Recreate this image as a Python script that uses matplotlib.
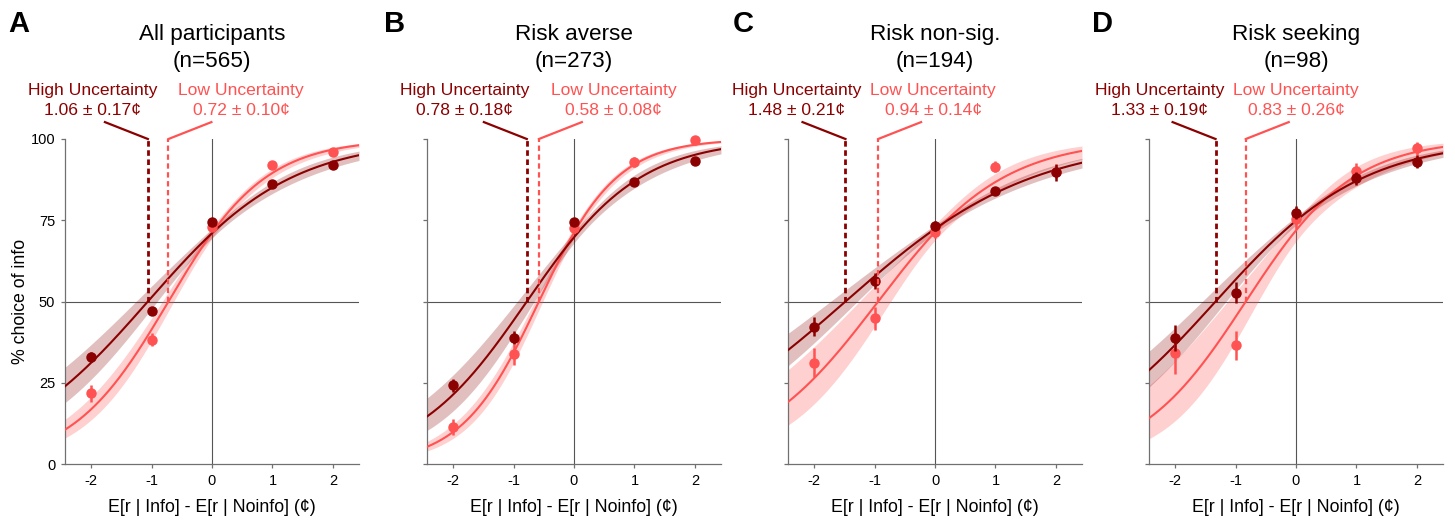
import numpy as np
import matplotlib
matplotlib.use("Agg")
import matplotlib.pyplot as plt

plt.rcParams['font.family'] = ['Liberation Sans', 'DejaVu Sans']
plt.rcParams['axes.unicode_minus'] = False

# x positions of the binned data (cents)
offsets = [-2, -1, 0, 1, 2]

letters = ["A", "B", "C", "D"]
titles = ["All participants", "Risk averse", "Risk non-sig.", "Risk seeking"]
n_subj = [565, 273, 194, 98]

# indifference points +- SE (cents), from the labels
high_ip = [1.06, 0.78, 1.48, 1.33]
high_ip_se = [0.17, 0.18, 0.21, 0.19]
low_ip = [0.72, 0.58, 0.94, 0.83]
low_ip_se = [0.10, 0.08, 0.14, 0.26]

# slope of fitted logistic curves
high_slope = [0.845, 1.07, 0.65, 0.82]
low_slope = [1.25, 1.56, 0.97, 1.13]

# half width of the shaded CI in logit units (part at x=0, part growing with x)
high_ci_b = [0.07, 0.08, 0.06, 0.07]
high_ci_k = [0.12, 0.16, 0.087, 0.107]
low_ci_b = [0.08, 0.08, 0.12, 0.16]
low_ci_k = [0.12, 0.115, 0.22, 0.265]

# % choice of info per offset, and SEM
high_pct = [[33.0, 47.2, 74.6, 86.1, 92.1],
            [24.3, 38.9, 74.4, 86.9, 93.3],
            [42.3, 56.3, 73.2, 84.0, 89.7],
            [38.9, 52.7, 77.3, 87.9, 93.0]]
high_sem = [[1.5, 1.2, 1.0, 1.0, 1.0],
            [2.0, 2.0, 1.2, 1.0, 1.0],
            [3.0, 2.5, 1.5, 1.2, 2.5],
            [4.0, 3.2, 2.0, 2.0, 2.0]]
low_pct = [[21.7, 38.2, 73.0, 92.0, 96.0],
           [11.3, 33.7, 72.5, 93.0, 99.8],
           [31.2, 44.8, 71.5, 91.5, 90.0],
           [34.1, 36.5, 75.3, 90.2, 97.1]]
low_sem = [[2.5, 2.0, 1.0, 1.0, 0.8],
           [2.5, 3.2, 1.5, 1.5, 0.3],
           [4.5, 3.5, 2.0, 1.8, 2.0],
           [6.5, 4.5, 3.0, 2.5, 2.0]]

dark = '#8b0000'
light = '#ff5252'
grey = '#707070'

# layout (pixels / data x for labels)
ax_left_px = [65, 427, 788, 1149]
letter_px = [19, 395, 743, 1103]
high_txt_x = [-1.97, -1.81, -2.29, -2.25]
low_txt_x = [0.48, 0.65, -0.03, 0.0]

W, H = 1455, 523
fig = plt.figure(figsize=(W / 100, H / 100), dpi=100)

xs = np.linspace(-2.43, 2.43, 300)


def sig(z):
    return 100.0 / (1.0 + np.exp(-z))


for i in range(4):
    ax = fig.add_axes([ax_left_px[i] / W, 59 / H, 294 / W, 325 / H])
    ax.set_xlim(-2.43, 2.43)
    ax.set_ylim(0, 100)

    ax.axhline(50, color='#555555', lw=0.8, zorder=1)
    ax.axvline(0, color='#555555', lw=0.8, zorder=1)

    for ip, k, cb, ck, c, a in [(low_ip[i], low_slope[i], low_ci_b[i], low_ci_k[i], light, 0.27),
                                (high_ip[i], high_slope[i], high_ci_b[i], high_ci_k[i], dark, 0.25)]:
        eta = k * (xs + ip)
        half = np.sqrt(cb ** 2 + (ck * xs) ** 2)
        ax.fill_between(xs, sig(eta - half), sig(eta + half), color=c, alpha=a, lw=0, zorder=2)
    ax.plot(xs, sig(low_slope[i] * (xs + low_ip[i])), color=light, lw=1.5, zorder=3)
    ax.plot(xs, sig(high_slope[i] * (xs + high_ip[i])), color=dark, lw=1.5, zorder=4)

    for pct, sem, c, z in [(low_pct[i], low_sem[i], light, 5), (high_pct[i], high_sem[i], dark, 6)]:
        eb = ax.errorbar(offsets, pct, yerr=sem, fmt='o', color=c, ms=6.5,
                         elinewidth=1.8, capsize=0, zorder=z)
        eb[0].set_clip_on(False)

    # indifference point markers
    ax.plot([-high_ip[i], -high_ip[i]], [50, 100], color=dark, lw=2, dashes=(2, 1.3),
            zorder=7, clip_on=False)
    ax.plot([-low_ip[i], -low_ip[i]], [50, 100], color=light, lw=1.6, dashes=(2.4, 1.6),
            zorder=7, clip_on=False)
    ax.plot([-high_ip[i], -high_ip[i] - 0.71], [100, 105.2], color=dark, lw=1.6, clip_on=False)
    ax.plot([-low_ip[i], -low_ip[i] + 0.71], [100, 105.2], color=light, lw=1.6, clip_on=False)

    ax.text(high_txt_x[i], 113.5, "High Uncertainty", color=dark, fontsize=12.6,
            ha='center', va='baseline', clip_on=False)
    ax.text(high_txt_x[i], 107.4, "%.2f \u00b1 %.2f\u00a2" % (high_ip[i], high_ip_se[i]),
            color=dark, fontsize=12.6, ha='center', va='baseline', clip_on=False)
    ax.text(low_txt_x[i], 113.5, "Low Uncertainty", color=light, fontsize=12.6,
            ha='center', va='baseline', clip_on=False)
    ax.text(low_txt_x[i], 107.4, "%.2f \u00b1 %.2f\u00a2" % (low_ip[i], low_ip_se[i]),
            color=light, fontsize=12.6, ha='center', va='baseline', clip_on=False)

    ax.text(0, 130.5, titles[i], fontsize=16.2, ha='center', va='baseline', clip_on=False)
    ax.text(0, 122.2, "(n=%d)" % n_subj[i], fontsize=16.2, ha='center', va='baseline',
            clip_on=False)

    fig.text(letter_px[i] / W, 1 - 24 / H, letters[i], fontsize=21, fontweight='bold',
             ha='center', va='center')

    for s in ['top', 'right']:
        ax.spines[s].set_visible(False)
    for s in ['left', 'bottom']:
        ax.spines[s].set_color(grey)
        ax.spines[s].set_linewidth(0.9)
    ax.set_xticks(offsets)
    ax.set_yticks([0, 25, 50, 75, 100])
    ax.tick_params(length=3, width=0.9, color=grey, labelsize=10.5, pad=4)
    if i == 0:
        ax.set_ylabel("% choice of info", fontsize=12.8, labelpad=1.5)
    else:
        ax.set_yticklabels([])
    ax.set_xlabel("E[r | Info] - E[r | Noinfo] (\u00a2)", fontsize=12.8, labelpad=8)

fig.savefig("out.png", dpi=100)
